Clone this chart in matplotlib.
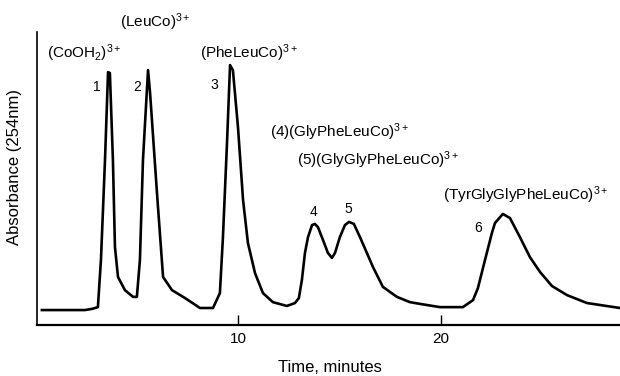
import matplotlib
matplotlib.use("Agg")
import matplotlib.pyplot as plt

plt.rcParams['font.family'] = ['Liberation Sans', 'DejaVu Sans']
plt.rcParams['mathtext.fontset'] = 'custom'
plt.rcParams['mathtext.rm'] = 'Liberation Sans'
plt.rcParams['mathtext.it'] = 'Liberation Sans'
plt.rcParams['mathtext.default'] = 'regular'

# Chromatogram trace (time in minutes, absorbance in arbitrary units)
time_min = [0.34, 2.46, 2.81, 3.10, 3.25, 3.45, 3.60, 3.69, 3.84, 3.94, 4.09, 4.43, 4.83,
            5.02, 5.17, 5.32, 5.57, 5.67, 6.01, 6.31, 6.75, 7.39, 8.13, 8.77, 9.11,
            9.26, 9.46, 9.61, 9.75, 10.00, 10.25, 10.49, 10.84, 11.23, 11.72, 12.41,
            12.81, 13.00, 13.15, 13.30, 13.45, 13.65, 13.79, 13.94, 14.19, 14.43, 14.63,
            14.78, 15.02, 15.27, 15.47, 15.71, 16.01, 16.35, 16.65, 17.14, 17.83, 18.47,
            18.97, 19.95, 20.44, 21.08, 21.58, 21.82, 22.17, 22.51, 22.66, 23.05, 23.40,
            23.89, 24.38, 24.88, 25.47, 26.21, 27.19, 28.82]
absorbance = [0.051, 0.051, 0.055, 0.061, 0.222, 0.563, 0.863, 0.860, 0.563, 0.266, 0.164, 0.119, 0.096,
              0.096, 0.222, 0.563, 0.870, 0.792, 0.451, 0.164, 0.119, 0.092, 0.058, 0.058, 0.109,
              0.300, 0.621, 0.887, 0.870, 0.676, 0.427, 0.280, 0.177, 0.109, 0.078, 0.065,
              0.075, 0.092, 0.154, 0.246, 0.300, 0.341, 0.345, 0.334, 0.290, 0.246, 0.229,
              0.246, 0.300, 0.341, 0.352, 0.345, 0.300, 0.246, 0.198, 0.130, 0.096, 0.078,
              0.072, 0.061, 0.061, 0.061, 0.085, 0.126, 0.222, 0.314, 0.348, 0.379, 0.365,
              0.300, 0.232, 0.181, 0.133, 0.102, 0.075, 0.058]

peak_numbers = ['1', '2', '3', '4', '5', '6']
peak_num_t = [3.05, 5.02, 8.82, 13.74, 15.42, 21.82]
peak_num_v = [0.812, 0.812, 0.819, 0.386, 0.396, 0.331]

compound_labels = [r'(CoOH$_2$)$^{3+}$', r'(LeuCo)$^{3+}$', r'(PheLeuCo)$^{3+}$',
                   r'(4)(GlyPheLeuCo)$^{3+}$', r'(5)(GlyGlyPheLeuCo)$^{3+}$',
                   r'(TyrGlyGlyPheLeuCo)$^{3+}$']
label_t = [0.59, 4.19, 8.13, 11.58, 12.91, 20.10]
label_v = [0.928, 1.034, 0.928, 0.659, 0.563, 0.444]

x_ticks = [10, 20]

fig = plt.figure(figsize=(6.2, 3.76), dpi=100)
ax = fig.add_axes([37/620, 1 - 325/376, (620 - 37)/620, (325 - 32)/376])

ax.plot(time_min, absorbance, color='black', lw=1.9, solid_joinstyle='round')

ax.set_xlim(0.1, 28.82)
ax.set_ylim(0, 1)
ax.set_xticks(x_ticks)
ax.set_xticklabels([str(t) for t in x_ticks], fontsize=11)
ax.tick_params(axis='x', direction='in', length=7, width=1, pad=5)
ax.set_yticks([])
for s in ['top', 'right']:
    ax.spines[s].set_visible(False)
ax.spines['bottom'].set_linewidth(1.6)
ax.spines['left'].set_linewidth(1.2)

ax.set_xlabel('Time, minutes', fontsize=12)
ax.xaxis.set_label_coords(0.503, -0.12)
ax.set_ylabel('Absorbance (254nm)', fontsize=12)
ax.yaxis.set_label_coords(-0.026, 0.539)

for lab, t, v in zip(peak_numbers, peak_num_t, peak_num_v):
    ax.text(t, v, lab, fontsize=10, ha='center', va='center')

for lab, t, v in zip(compound_labels, label_t, label_v):
    ax.text(t, v, lab, fontsize=11, ha='left', va='center', clip_on=False)

fig.savefig('out.png', dpi=100)
